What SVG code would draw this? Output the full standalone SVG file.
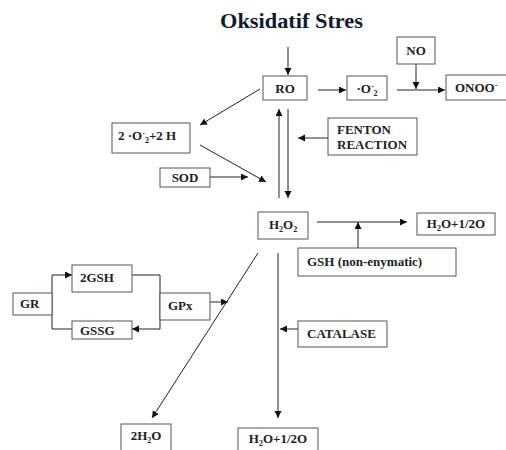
<svg xmlns="http://www.w3.org/2000/svg" width="506" height="450" viewBox="0 0 506 450">
<style>
.box{fill:#fff;stroke:#555;stroke-width:1}
.t{font-family:"Liberation Serif","Times New Roman",serif;font-weight:bold;font-size:13px;fill:#222}
.c{text-anchor:middle}
.ln{fill:none;stroke:#222;stroke-width:1;marker-end:url(#ah)}
.title{font-family:"Liberation Serif","Times New Roman",serif;font-weight:bold;font-size:21px;fill:#101a2c}
</style>
<defs>
<marker id="ah" markerWidth="8" markerHeight="8" refX="7" refY="3.5" orient="auto" markerUnits="userSpaceOnUse">
<path d="M0,0 L7,3.5 L0,7 Z" fill="#111"/>
</marker>
</defs>
<rect width="506" height="450" fill="#fff"/>
<text class="title" x="220" y="28" textLength="143" lengthAdjust="spacingAndGlyphs">Oksidatif Stres</text>

<g id="connectors">
<line class="ln" x1="288" y1="47" x2="288" y2="75"/>
<line class="ln" x1="318" y1="90" x2="346" y2="90"/>
<line class="ln" x1="397" y1="90" x2="445" y2="90"/>
<line class="ln" x1="416" y1="64" x2="416" y2="89"/>
<line class="ln" x1="260" y1="89" x2="200" y2="125"/>
<line class="ln" x1="279" y1="198" x2="279" y2="109"/>
<line class="ln" x1="288" y1="109" x2="288" y2="198"/>
<line class="ln" x1="328" y1="138" x2="298" y2="138"/>
<line class="ln" x1="210" y1="177" x2="248" y2="177"/>
<line class="ln" x1="200" y1="145" x2="266" y2="182"/>
<line class="ln" x1="317" y1="222" x2="407" y2="222"/>
<line class="ln" x1="358" y1="248" x2="358" y2="222"/>
<path class="ln" d="M72,329 H52 V275 H72"/>
<path class="ln" d="M132,275 H160 V329 H132"/>
<line class="ln" x1="210" y1="302" x2="228" y2="302"/>
<line class="ln" x1="258" y1="253" x2="152" y2="418"/>
<line class="ln" x1="278" y1="253" x2="278" y2="418"/>
<line class="ln" x1="298" y1="329" x2="280" y2="329"/>
</g>

<g id="ro"><rect class="box" x="263" y="76" width="44" height="24"/><text class="t c" x="285" y="93">RO</text></g>
<g id="o2"><rect class="box" x="347" y="76" width="40" height="24"/><text class="t c" x="367" y="93">·O<tspan font-size="8" dy="-4">-</tspan><tspan font-size="8" dy="7">2</tspan></text></g>
<g id="no"><rect class="box" x="397" y="37" width="38" height="27"/><text class="t c" x="416" y="55">NO</text></g>
<g id="onoo"><rect class="box" x="446" y="75" width="64" height="25"/><text class="t" x="455" y="92">ONOO<tspan font-size="8" dy="-4">-</tspan></text></g>
<g id="o2h"><rect class="box" x="112" y="123" width="78" height="30"/><text class="t" x="118" y="140">2 ·O<tspan font-size="8" dy="-4">-</tspan><tspan font-size="8" dy="7">2</tspan><tspan dy="-3">+2 H</tspan></text></g>
<g id="fenton"><rect class="box" x="328" y="118" width="89" height="37"/><text class="t" x="337" y="134">FENTON</text><text class="t" x="337" y="149">REACTION</text></g>
<g id="sod"><rect class="box" x="160" y="168" width="50" height="19"/><text class="t c" x="185" y="182">SOD</text></g>
<g id="h2o2"><rect class="box" x="258" y="212" width="50" height="27"/><text class="t c" x="283" y="229">H<tspan font-size="8" dy="3">2</tspan><tspan dy="-3">O</tspan><tspan font-size="8" dy="3">2</tspan></text></g>
<g id="h2o-r"><rect class="box" x="417" y="213" width="78" height="22"/><text class="t c" x="456" y="228">H<tspan font-size="8" dy="3">2</tspan><tspan dy="-3">O+1/2O</tspan></text></g>
<g id="gsh"><rect class="box" x="298" y="248" width="158" height="28"/><text class="t" x="307" y="266">GSH (non-enymatic)</text></g>
<g id="gr"><rect class="box" x="13" y="293" width="39" height="22"/><text class="t" x="20" y="308">GR</text></g>
<g id="gsh2"><rect class="box" x="72" y="265" width="60" height="27"/><text class="t" x="80" y="282">2GSH</text></g>
<g id="gssg"><rect class="box" x="72" y="321" width="60" height="18"/><text class="t" x="80" y="335">GSSG</text></g>
<g id="gpx"><rect class="box" x="160" y="293" width="50" height="27"/><text class="t" x="168" y="310">GPx</text></g>
<g id="catalase"><rect class="box" x="298" y="321" width="89" height="26"/><text class="t" x="307" y="338">CATALASE</text></g>
<g id="h2o2x"><rect class="box" x="121" y="424" width="50" height="32"/><text class="t c" x="146" y="440">2H<tspan font-size="8" dy="3">2</tspan><tspan dy="-3">O</tspan></text></g>
<g id="h2o-b"><rect class="box" x="238" y="428" width="80" height="28"/><text class="t c" x="278" y="443">H<tspan font-size="8" dy="3">2</tspan><tspan dy="-3">O+1/2O</tspan></text></g>
</svg>
